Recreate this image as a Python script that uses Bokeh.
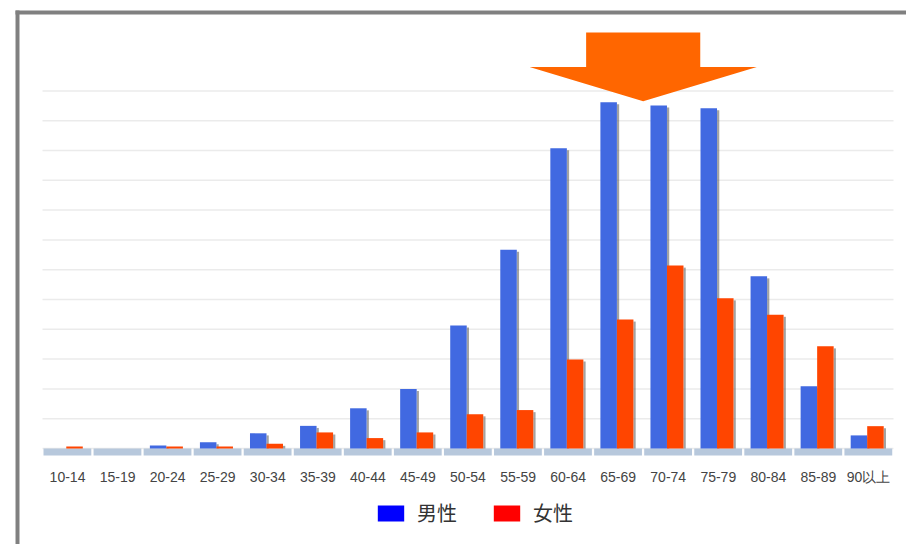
from bokeh.plotting import figure
from bokeh.models import Range1d, Legend, LegendItem
from bokeh.core.properties import value
from bokeh.embed import file_html
from bokeh.resources import INLINE

# age groups and counts per group (one gridline step = 10)
age_groups = ["10-14", "15-19", "20-24", "25-29", "30-34", "35-39", "40-44",
              "45-49", "50-54", "55-59", "60-64", "65-69", "70-74", "75-79",
              "80-84", "85-89", "90以上"]
male = [0.0, 0.0, 1.0, 2.1, 5.1, 7.6, 13.5, 20.0, 41.3, 66.7, 100.8,
        116.2, 115.1, 114.2, 57.8, 20.9, 4.4]
female = [0.7, 0.0, 0.7, 0.7, 1.6, 5.4, 3.5, 5.4, 11.5, 12.9, 29.9,
          43.3, 61.4, 50.4, 44.9, 34.3, 7.5]
gridlines = list(range(0, 121, 10))

n = len(age_groups)
pos = list(range(n))
BAR_W = 0.33
BAR_BLUE = "#4169E1"
BAR_RED = "#FF4500"
BAND_DEPTH = 2.35
NAN = float("nan")

X0, X1 = -0.839, 17.26     # horizontal extent of the canvas, in group units
Y0, Y1 = -32.21, 150.34    # vertical extent of the canvas, in value units

# the whole canvas is the plot frame; labels and legend live below zero
p = figure(x_range=Range1d(X0, X1), y_range=Range1d(Y0, Y1),
           width=906, height=544,
           min_border=0, min_border_left=0, min_border_right=0,
           min_border_top=0, min_border_bottom=0,
           output_backend="svg", toolbar_location=None)
p.axis.visible = False
p.grid.visible = False
p.outline_line_color = None
p.background_fill_color = "white"
p.border_fill_color = "white"

# grey frame along the left and top edges
p.quad(left=[-0.539, -0.539], right=[-0.4595, X1 + 1],
       top=[146.98, 146.98], bottom=[Y0 - 1, 145.64],
       fill_color="#808080", line_color=None)

# horizontal gridlines
p.segment(x0=[0] * len(gridlines), x1=[n] * len(gridlines), y0=gridlines,
          y1=gridlines, line_color="#ebebeb", line_width=1.5)

# segmented base band under each group
p.quad(left=[i + 0.02 for i in pos], right=[i + 0.975 for i in pos],
       top=[0] * n, bottom=[-BAND_DEPTH] * n,
       fill_color="#B7C8DC", line_color=None)

m_left = [i + 0.145 for i in pos]
f_left = [i + 0.475 for i in pos]

# soft drop shadows on the right edge of each bar
for left, vals in ((m_left, male), (f_left, female)):
    p.quad(left=[x + BAR_W for x in left], right=[x + BAR_W + 0.045 for x in left],
           top=[max(v - 0.7, 0) for v in vals], bottom=[0] * n,
           fill_color="#666666", fill_alpha=0.6, line_color=None)

p.quad(left=m_left, right=[x + BAR_W for x in m_left], top=male,
       bottom=[0] * n, fill_color=BAR_BLUE, line_color=None)
p.quad(left=f_left, right=[x + BAR_W for x in f_left], top=female,
       bottom=[0] * n, fill_color=BAR_RED, line_color=None)

# category labels under the band
p.text(x=[i + 0.5 for i in pos], y=[-9.4] * n, text=age_groups,
       text_align="center", text_baseline="middle",
       text_font=value("Liberation Sans"), text_font_size=value("14px"),
       text_color="#444444")

# orange pointer arrow above the 65-79 peak
tip_x = 12.0
shaft_half, head_half = 1.14, 2.27
shaft_top, head_base, tip_y = 139.6, 128.0, 116.5
p.patch(x=[tip_x - shaft_half, tip_x + shaft_half, tip_x + shaft_half,
           tip_x + head_half, tip_x, tip_x - head_half, tip_x - shaft_half],
        y=[shaft_top, shaft_top, head_base, head_base, tip_y, head_base,
           head_base],
        fill_color="#FF6600", line_color=None)

# legend swatches (renderers carry no drawable data)
r_m = p.quad(left=[NAN], right=[NAN], top=[NAN], bottom=[NAN],
             fill_color="#0000FF", line_color=None)
r_f = p.quad(left=[NAN], right=[NAN], top=[NAN], bottom=[NAN],
             fill_color="#FF0000", line_color=None)
legend = Legend(items=[LegendItem(label="男性", renderers=[r_m]),
                       LegendItem(label="女性", renderers=[r_f])],
                orientation="horizontal", location=(374, 17),
                glyph_width=33, glyph_height=20, label_standoff=10,
                spacing=33, label_text_font="Noto Sans CJK JP",
                label_text_font_size="20px", label_text_color="#333333",
                label_height=20, border_line_color=None,
                background_fill_alpha=0, margin=0, padding=0)
p.add_layout(legend)

open("out.html", "w").write(file_html(p, INLINE))
